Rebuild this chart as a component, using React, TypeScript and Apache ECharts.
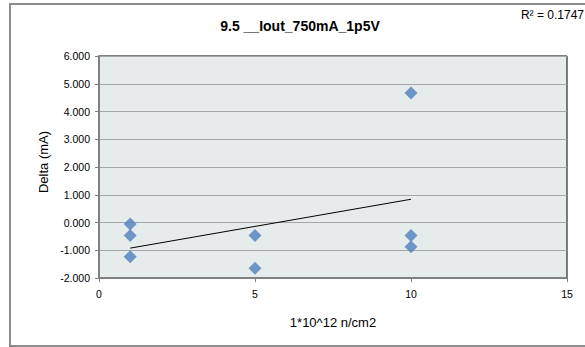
import React, { useEffect, useRef } from "react";
import * as echarts from "echarts";

const chartTitle = "9.5 __Iout_750mA_1p5V";
const xName = "1*10^12 n/cm2";
const yName = "Delta (mA)";
const rSquaredLabel = "R² = 0.1747";

const fluence = [1, 1, 1, 5, 5, 10, 10, 10];
const deltaMA = [-0.05, -0.47, -1.23, -0.47, -1.65, 4.67, -0.47, -0.87];

function linearFit(xs: number[], ys: number[]) {
  const n = xs.length;
  const mx = xs.reduce((a, b) => a + b, 0) / n;
  const my = ys.reduce((a, b) => a + b, 0) / n;
  let sxy = 0;
  let sxx = 0;
  for (let i = 0; i < n; i++) {
    sxy += (xs[i] - mx) * (ys[i] - my);
    sxx += (xs[i] - mx) * (xs[i] - mx);
  }
  const slope = sxy / sxx;
  return { slope, intercept: my - slope * mx };
}

export default function App() {
  const ref = useRef<HTMLDivElement>(null);
  useEffect(() => {
    document.body.style.margin = "0";
    document.body.style.overflow = "hidden";
    if (!ref.current) return;
    const chart = echarts.init(ref.current, undefined, { renderer: "svg" });
    const fit = linearFit(fluence, deltaMA);
    const xMin = Math.min(...fluence);
    const xMax = Math.max(...fluence);
    const trend = [
      [xMin, fit.intercept + fit.slope * xMin],
      [xMax, fit.intercept + fit.slope * xMax],
    ];
    const font = "'Liberation Sans', Arial, sans-serif";
    chart.setOption({
      animation: false,
      backgroundColor: "#ffffff",
      textStyle: { fontFamily: font },
      title: {
        text: chartTitle,
        left: 300,
        top: 19,
        padding: 0,
        textAlign: "center",
        textStyle: { fontSize: 14, fontWeight: "bold", color: "#000", fontFamily: font },
      },
      graphic: [
        {
          type: "line",
          shape: { x1: 10, y1: 4, x2: 10, y2: 346 },
          style: { stroke: "#8c8c8c", lineWidth: 2 },
          silent: true,
        },
        {
          type: "line",
          shape: { x1: 9, y1: 4, x2: 585, y2: 4 },
          style: { stroke: "#8c8c8c", lineWidth: 2 },
          silent: true,
        },
        {
          type: "line",
          shape: { x1: 9, y1: 346, x2: 585, y2: 346 },
          style: { stroke: "#8c8c8c", lineWidth: 2 },
          silent: true,
        },
        {
          type: "text",
          x: 584,
          y: 9,
          style: {
            text: rSquaredLabel,
            fontSize: 12,
            fill: "#000",
            fontFamily: font,
            align: "right",
          },
        },
        {
          type: "text",
          x: 43,
          y: 162,
          rotation: Math.PI / 2,
          style: {
            text: yName,
            fontSize: 13,
            fill: "#000",
            fontFamily: font,
            align: "center",
            verticalAlign: "middle",
          },
        },
      ],
      grid: {
        left: 99,
        right: 18,
        top: 56,
        bottom: 69,
        show: true,
        backgroundColor: "#e6ecec",
        borderColor: "#000",
        borderWidth: 1,
      },
      xAxis: {
        type: "value",
        min: 0,
        max: 15,
        interval: 5,
        name: xName,
        nameLocation: "middle",
        nameGap: 38,
        nameTextStyle: { fontSize: 13, color: "#000" },
        axisLine: { show: true, onZero: false, lineStyle: { color: "#808080", width: 2 } },
        axisTick: { show: true, length: 4, lineStyle: { color: "#808080" } },
        axisLabel: { fontSize: 10.5, color: "#000", margin: 10 },
        splitLine: { show: false },
      },
      yAxis: {
        type: "value",
        min: -2,
        max: 6,
        interval: 1,
        axisLine: { show: true, onZero: false, lineStyle: { color: "#808080", width: 2 } },
        axisTick: { show: true, length: 4, lineStyle: { color: "#808080" } },
        axisLabel: {
          fontSize: 10.5,
          color: "#000",
          margin: 9,
          formatter: (v: number) => v.toFixed(3),
        },
        splitLine: { show: true, lineStyle: { color: "#a6a6a6", width: 1 } },
      },
      series: [
        {
          type: "line",
          data: trend,
          symbol: "none",
          lineStyle: { color: "#000", width: 1 },
          z: 3,
        },
        {
          type: "scatter",
          data: fluence.map((x, i) => [x, deltaMA[i]]),
          symbol: "diamond",
          symbolSize: 13,
          itemStyle: { color: "#4f81bd" },
          z: 4,
        },
      ],
    });
    return () => chart.dispose();
  }, []);
  return <div ref={ref} style={{ width: 585, height: 347 }} />;
}
